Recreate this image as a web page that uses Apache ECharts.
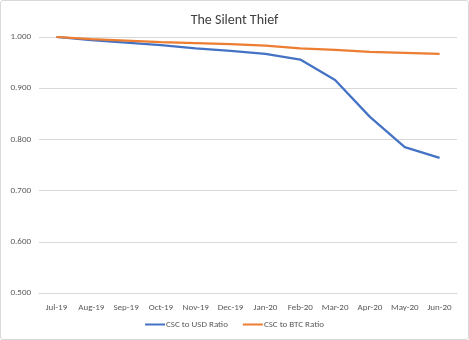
<!DOCTYPE html>
<html><head><meta charset="utf-8">
<script src="https://cdn.jsdelivr.net/npm/echarts@6/dist/echarts.min.js"></script>
<style>html,body{margin:0;padding:0;background:#fff}#c{width:469px;height:340px;box-sizing:border-box;border:1px solid #d9d9d9;border-radius:3px}</style>
</head><body><div id="c"></div>
<script>
const categories = ['Jul-19','Aug-19','Sep-19','Oct-19','Nov-19','Dec-19','Jan-20','Feb-20','Mar-20','Apr-20','May-20','Jun-20'];
const usdRatio = [1.000,0.994,0.989,0.984,0.978,0.973,0.967,0.956,0.916,0.844,0.785,0.764];
const btcRatio = [1.000,0.996,0.993,0.990,0.988,0.986,0.983,0.978,0.975,0.971,0.969,0.967];
const seriesNames = ['CSC to USD Ratio','CSC to BTC Ratio'];
const chart = echarts.init(document.getElementById('c'));
const font = 'Carlito, "Liberation Sans", "Open Sans", sans-serif';
chart.setOption({
  animation:false,
  title:{text:'The Silent Thief',left:'center',top:7,textStyle:{fontFamily:font,fontSize:14,fontWeight:'normal',color:'#404040'}},
  legend:{bottom:5,left:'center',itemWidth:20,itemHeight:2,itemGap:15,icon:'rect',
    textStyle:{fontFamily:font,fontSize:9,color:'#595959',padding:[0,0,0,-4]},data:seriesNames},
  grid:{left:38,right:11,top:36,bottom:46,containLabel:false},
  xAxis:{type:'category',data:categories,boundaryGap:true,
    axisLine:{lineStyle:{color:'#d9d9d9'}},axisTick:{show:false},
    axisLabel:{fontFamily:font,fontSize:9,color:'#595959',margin:10,interval:0}},
  yAxis:{type:'value',min:0.5,max:1.0,interval:0.1,
    axisLine:{show:false},axisTick:{show:false},
    splitLine:{lineStyle:{color:'#d9d9d9'}},
    axisLabel:{fontFamily:font,fontSize:9,color:'#595959',margin:8,formatter:v=>v.toFixed(3)}},
  series:[
    {name:seriesNames[0],type:'line',data:usdRatio,symbol:'none',lineStyle:{color:'#4472C4',width:2.25},itemStyle:{color:'#4472C4'}},
    {name:seriesNames[1],type:'line',data:btcRatio,symbol:'none',lineStyle:{color:'#ED7D31',width:2.25},itemStyle:{color:'#ED7D31'}}
  ]
});
</script></body></html>
